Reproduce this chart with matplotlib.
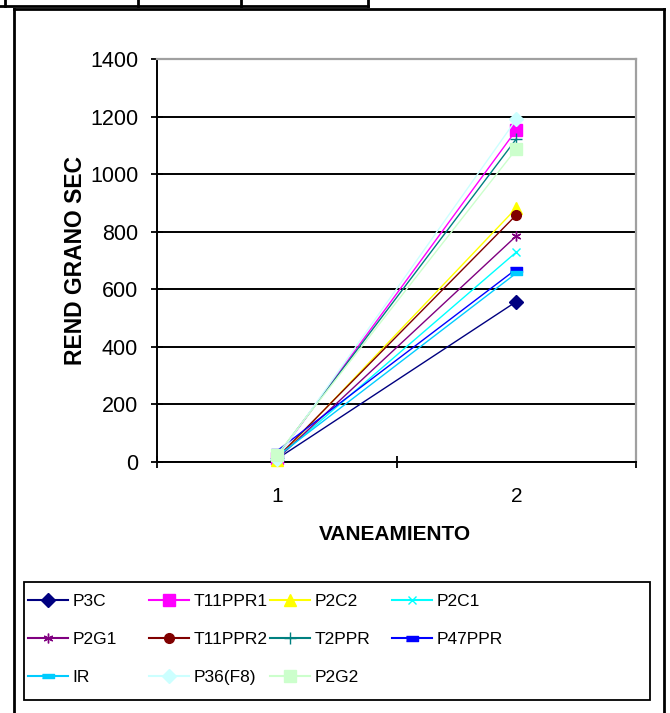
import matplotlib
matplotlib.use('Agg')
import matplotlib.pyplot as plt
from matplotlib.lines import Line2D
from matplotlib.patches import Rectangle

plt.rcParams['font.family'] = ['Liberation Sans', 'DejaVu Sans']

# datos
x = [1, 2]
series = ['P3C', 'T11PPR1', 'P2C2', 'P2C1', 'P2G1', 'T11PPR2',
          'T2PPR', 'P47PPR', 'IR', 'P36(F8)', 'P2G2']
v1 = [10, 15, 8, 12, 10, 14, 20, 38, 18, 12, 24]
v2 = [557, 1153, 882, 729, 785, 858, 1122, 670, 656, 1190, 1087]

colores = ['#000080', '#FF00FF', '#FFFF00', '#00FFFF', '#800080', '#800000',
           '#008080', '#0000FF', '#00CCFF', '#CCFFFF', '#CCFFCC']
dash_corto = [(-1, -0.45), (1, -0.45), (1, 0.45), (-1, 0.45)]
dash_largo = [(-1.6, -0.4), (1.6, -0.4), (1.6, 0.4), (-1.6, 0.4)]
marcas = ['D', 's', '^', 'x', (6, 2, 0), 'o', '+', dash_corto, dash_largo, 'D', 's']
tam = [7, 8, 8, 6, 7, 7, 8, 8, 9, 7, 8]

W, H = 670, 713
fig = plt.figure(figsize=(W / 100, H / 100), dpi=100)

def fx(px):
    return px / W

def fy(py):
    return 1 - py / H

ax = fig.add_axes([fx(157), fy(462), fx(636) - fx(157), fy(59) - fy(462)])

handles = []
for i, s in enumerate(series):
    h, = ax.plot(x, [v1[i], v2[i]], color=colores[i], marker=marcas[i],
                 markersize=tam[i], markeredgecolor=colores[i],
                 markerfacecolor=colores[i], lw=1.0, label=s, clip_on=False,
                 zorder=3)
    handles.append(h)

ax.set_ylim(0, 1400)
ax.set_xlim(0.5, 2.5)
ax.set_yticks(range(0, 1401, 200))
ax.set_xticks([1, 2])
ax.set_xticks([0.5, 1.5, 2.5], minor=True)
ax.tick_params(axis='x', which='major', length=0, pad=18, labelsize=15)
ax.tick_params(axis='x', which='minor', direction='inout', length=9, width=1.3)
ax.tick_params(axis='y', direction='inout', length=9, width=1.3, pad=9, labelsize=15.5)
ax.yaxis.grid(True, color='black', lw=1.4)
ax.set_axisbelow(True)
for sp in ['left', 'bottom']:
    ax.spines[sp].set_color('black')
    ax.spines[sp].set_linewidth(1.4)
for sp in ['top', 'right']:
    ax.spines[sp].set_color('#A0A0A0')
    ax.spines[sp].set_linewidth(1.6)

ax.set_ylabel('REND GRANO SEC', fontsize=16.5, fontweight='bold')
ax.yaxis.set_label_coords((87 - 157) / 479, 0.5)
ax.set_xlabel('VANEAMIENTO', fontsize=15, fontweight='bold')
ax.xaxis.set_label_coords(0.497, (462 - 535) / 403)
ax.xaxis.label.set_va('center')

# leyenda: 4 columnas de igual ancho
fig.add_artist(Rectangle((fx(24), fy(700)), fx(650) - fx(24), fy(582) - fy(700),
                         transform=fig.transFigure, fill=False,
                         edgecolor='black', lw=1.3))
col_x = [23, 144, 265, 387]
for c in range(4):
    idx = [c, c + 4, c + 8]
    idx = [k for k in idx if k < len(series)]
    leg = fig.legend([handles[k] for k in idx], [series[k] for k in idx],
                     loc='upper left', bbox_to_anchor=(fx(col_x[c]), fy(589)),
                     frameon=False, fontsize=12.5, handlelength=2.3,
                     handletextpad=0.25, labelspacing=1.3, borderaxespad=0,
                     borderpad=0.3)
    for ln in leg.get_lines():
        ln.set_linewidth(1.5)

# marco exterior y celdas de la hoja
lw = 2
segs = [([14, 14], [9, 713]), ([14, 664], [9, 9]), ([664, 664], [9, 713]),
        ([0, 368], [6, 6])]
for px in [5, 138, 241, 368]:
    segs.append(([px, px], [0, 6]))
for sx, sy in segs:
    fig.add_artist(Line2D([fx(v) for v in sx], [fy(v) for v in sy],
                          transform=fig.transFigure, color='black', lw=lw))

fig.savefig('out.png', dpi=100)
